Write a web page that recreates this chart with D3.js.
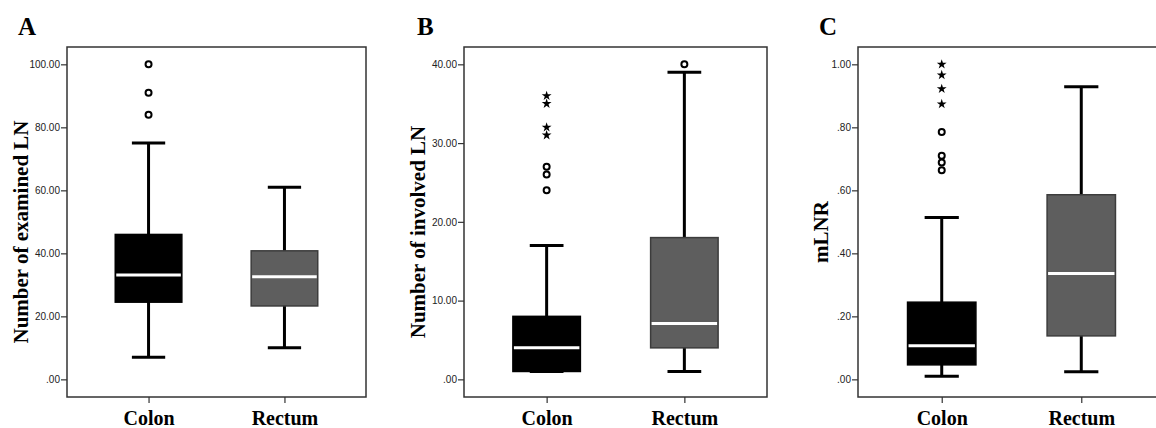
<!DOCTYPE html>
<html>
<head>
<meta charset="utf-8">
<script src="https://cdn.jsdelivr.net/npm/d3@7"></script>
<style>
  body { margin: 0; background: #fff; }
  .yax .tick text { font-family: "Liberation Sans", Arial, sans-serif; font-size: 10px; fill: #222; }
  .ttl { font-family: "Liberation Serif", "Times New Roman", serif; font-weight: bold; fill: #000; }
</style>
</head>
<body>
<div id="chart"></div>
<script>
// categories and titles
const groups = ["Colon", "Rectum"];
const panelLetters = ["A", "B", "C"];
const yTitles = ["Number of examined LN", "Number of involved LN", "mLNR"];
const yTicks = [[0, 20, 40, 60, 80, 100], [0, 10, 20, 30, 40], [0, 0.2, 0.4, 0.6, 0.8, 1]];

// box stats: [lower whisker, Q1, median, Q3, upper whisker]
const examinedColon = [7, 24.5, 33.1, 46, 75];
const examinedRectum = [10, 23.3, 32.6, 40.8, 61];
const examinedColonCircles = [84, 91, 100];

const involvedColon = [1, 1, 4, 8, 17];
const involvedRectum = [1, 4, 7.1, 18, 39];
const involvedColonCircles = [24, 26, 27];
const involvedColonStars = [31, 32, 35, 36];
const involvedRectumCircles = [40];

const mlnrColon = [0.01, 0.046, 0.107, 0.245, 0.514];
const mlnrRectum = [0.024, 0.138, 0.336, 0.586, 0.929];
const mlnrColonCircles = [0.664, 0.688, 0.71, 0.785];
const mlnrColonStars = [0.874, 0.922, 0.966, 1.0];

const W = 1156, H = 428;
const svg = d3.select("#chart").append("svg").attr("width", W).attr("height", H);

const panels = [
  { box: [examinedColon, examinedRectum], circles: [examinedColonCircles, []], stars: [[], []],
    left: 67, right: 366, letterX: 18, titleX: 28 },
  { box: [involvedColon, involvedRectum], circles: [involvedColonCircles, involvedRectumCircles], stars: [involvedColonStars, []],
    left: 464, right: 767, letterX: 417, titleX: 425 },
  { box: [mlnrColon, mlnrRectum], circles: [mlnrColonCircles, []], stars: [mlnrColonStars, []],
    left: 858, right: 1165, letterX: 819, titleX: 828 }
];

const frameTop = 47, frameBottom = 397;
const fills = ["#000", "#5e5e5e"];
const strokes = ["#000", "#3c3c3c"];

const fmt = v => d3.format(".2f")(v).replace(/^0\./, ".");

panels.forEach((p, i) => {
  const max = d3.max(yTicks[i]);
  const y = d3.scaleLinear().domain([-0.056 * max, 1.055 * max]).range([frameBottom, frameTop]);
  const x = d3.scalePoint().domain(groups).range([p.left, p.right]).padding(0.6);
  const bw = x.step() * 0.49;

  const g = svg.append("g");

  // frame
  g.append("rect").attr("x", p.left).attr("y", frameTop)
    .attr("width", p.right - p.left).attr("height", frameBottom - frameTop)
    .attr("fill", "none").attr("stroke", "#333").attr("stroke-width", 1.5);

  // y axis
  const ya = g.append("g").attr("class", "yax").attr("transform", `translate(${p.left},0)`)
    .call(d3.axisLeft(y).tickValues(yTicks[i]).tickFormat(fmt).tickSize(6).tickPadding(1));
  ya.select(".domain").remove();
  ya.selectAll(".tick line").attr("stroke", "#333").attr("stroke-width", 1.2);

  // x axis
  const xa = g.append("g").attr("transform", `translate(0,${frameBottom})`)
    .call(d3.axisBottom(x).tickSize(6).tickPadding(8));
  xa.select(".domain").remove();
  xa.selectAll(".tick line").attr("stroke", "#333").attr("stroke-width", 1.2);
  xa.selectAll(".tick text").attr("class", "ttl")
    .style("font-family", "'Liberation Serif', 'Times New Roman', serif")
    .style("font-size", "20px").attr("dy", "0.71em");

  groups.forEach((grp, k) => {
    const s = p.box[k], cx = x(grp);
    // whisker
    g.append("line").attr("x1", cx).attr("x2", cx).attr("y1", y(s[0])).attr("y2", y(s[4]))
      .attr("stroke", "#000").attr("stroke-width", 3);
    [s[0], s[4]].forEach(v => {
      g.append("line").attr("x1", cx - bw / 4).attr("x2", cx + bw / 4)
        .attr("y1", y(v)).attr("y2", y(v)).attr("stroke", "#000").attr("stroke-width", 3);
    });
    // box
    g.append("rect").attr("x", cx - bw / 2).attr("y", y(s[3]))
      .attr("width", bw).attr("height", y(s[1]) - y(s[3]))
      .attr("fill", fills[k]).attr("stroke", strokes[k]).attr("stroke-width", 1.5);
    // median
    g.append("line").attr("x1", cx - bw / 2 + 1).attr("x2", cx + bw / 2 - 1)
      .attr("y1", y(s[2])).attr("y2", y(s[2])).attr("stroke", "#fff").attr("stroke-width", 3);
    // outliers
    g.selectAll(null).data(p.circles[k]).enter().append("circle")
      .attr("cx", cx).attr("cy", d => y(d)).attr("r", 3)
      .attr("fill", "#fff").attr("stroke", "#000").attr("stroke-width", 2);
    g.selectAll(null).data(p.stars[k]).enter().append("path")
      .attr("d", d3.symbol().type(d3.symbolStar).size(30))
      .attr("transform", d => `translate(${cx},${y(d)})`).attr("fill", "#000");
  });

  // y title
  g.append("text").attr("class", "ttl").style("font-size", "21px")
    .attr("text-anchor", "middle")
    .attr("transform", `translate(${p.titleX},${(frameTop + frameBottom) / 2 + 10}) rotate(-90)`)
    .text(yTitles[i]);

  // panel letter
  g.append("text").attr("class", "ttl").style("font-size", "25px")
    .attr("x", p.letterX).attr("y", 35).text(panelLetters[i]);
});
</script>
</body>
</html>
